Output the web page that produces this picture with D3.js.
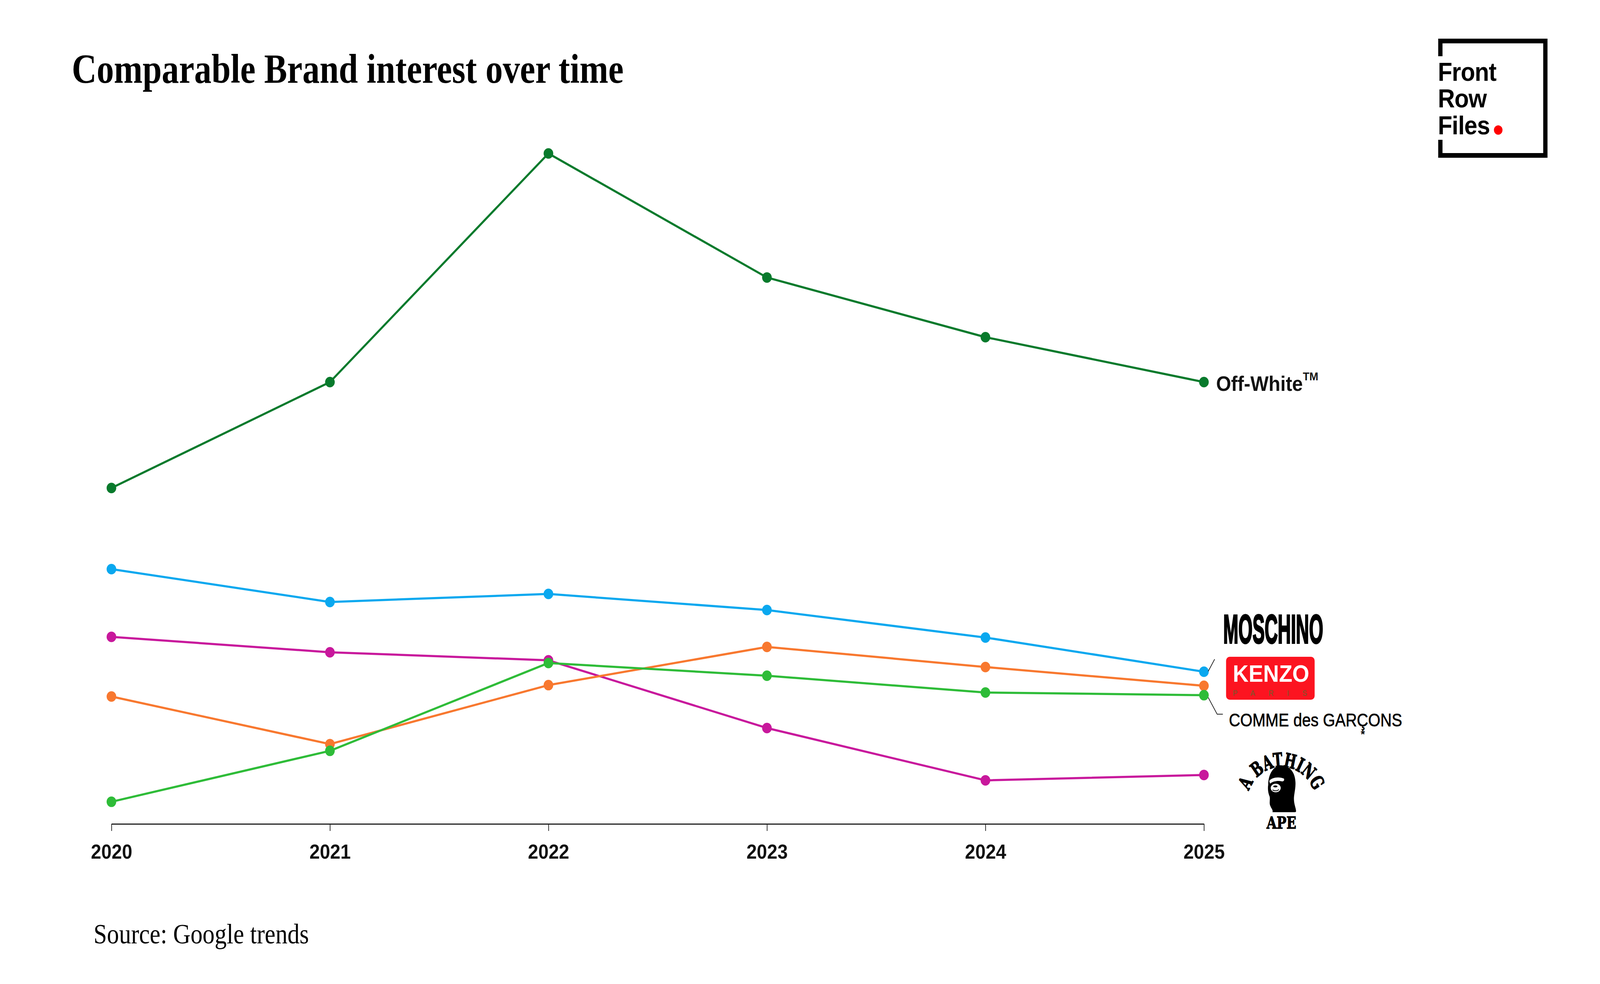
<!DOCTYPE html>
<html><head><meta charset="utf-8">
<script src="https://cdn.jsdelivr.net/npm/d3@7"></script>
<style>html,body{margin:0;padding:0;background:#fff;width:100%;height:100%;overflow:hidden;} svg{display:block;}</style>
</head><body>
<script>
// ---- data ----
const years = [2020, 2021, 2022, 2023, 2024, 2025];
const offWhite = [50.1, 65.9, 100, 81.5, 72.6, 65.9];
const moschino = [38.0, 33.1, 34.3, 31.9, 27.8, 22.7];
const bape = [27.9, 25.6, 24.4, 14.3, 6.5, 7.3];
const kenzo = [19.0, 11.9, 20.7, 26.4, 23.4, 20.6];
const commeDesGarcons = [3.3, 10.9, 24.0, 22.1, 19.6, 19.2];
const seriesKeys = ["offWhite", "moschino", "bape", "kenzo", "commeDesGarcons"];
const seriesColors = ["#087a2c", "#0aa8ef", "#c8189c", "#f8782f", "#2ebc38"];
const titleText = "Comparable Brand interest over time";
const sourceText = "Source: Google trends";
const logoLines = ["Front", "Row", "Files"];

const seriesValues = { offWhite, moschino, bape, kenzo, commeDesGarcons };

const W = 4480, H = 2520;
const svg = d3.select("body").append("svg")
  .attr("viewBox", `0 0 ${W} ${H}`)
  .attr("preserveAspectRatio", "none")
  .style("width", "100vw").style("height", "100vh")
  .style("background", "#fff");

const x = d3.scaleLinear().domain([2020, 2025]).range([312, 3371]);
const y = d3.scaleLinear().domain([0, 100]).range([2110, 393]);

// title
svg.append("text").attr("x", 201).attr("y", 212)
  .attr("font-family", "'Liberation Serif', 'DejaVu Serif', serif")
  .attr("font-weight", "bold").attr("font-size", 106)
  .attr("textLength", 1545).attr("lengthAdjust", "spacingAndGlyphs")
  .attr("fill", "#000").text(titleText);

// source
svg.append("text").attr("x", 262).attr("y", 2416)
  .attr("font-family", "'Liberation Serif', 'DejaVu Serif', serif")
  .attr("font-size", 72)
  .attr("textLength", 603).attr("lengthAdjust", "spacingAndGlyphs")
  .attr("fill", "#000").text(sourceText);

// axis
const axis = d3.axisBottom(x).tickValues(years).tickFormat(d3.format("d"))
  .tickSize(18).tickSizeOuter(0).tickPadding(34);
const gAxis = svg.append("g").attr("transform", "translate(0,2110)").call(axis);
gAxis.select(".domain").attr("stroke", "#222").attr("stroke-width", 3);
gAxis.selectAll(".tick line").attr("stroke", "#222").attr("stroke-width", 2);
gAxis.selectAll(".tick text").attr("font-family", "'Liberation Sans', Arial, sans-serif")
  .attr("font-weight", "bold").attr("font-size", 52).attr("fill", "#111");

// lines
const line = d3.line().x((d, i) => x(years[i])).y(d => y(d));
seriesKeys.forEach((k, si) => {
  const vals = seriesValues[k];
  const g = svg.append("g");
  g.append("path").datum(vals).attr("d", line).attr("fill", "none")
    .attr("stroke", seriesColors[si]).attr("stroke-width", 5.5)
    .attr("stroke-linejoin", "round");
  g.selectAll("circle").data(vals).join("circle")
    .attr("cx", (d, i) => x(years[i])).attr("cy", d => y(d)).attr("r", 13.5)
    .attr("fill", seriesColors[si]);
});

const lastX = x(years[years.length - 1]);

// Off-White label
const ow = svg.append("text").attr("x", lastX + 34).attr("y", y(offWhite[5]) + 23)
  .attr("font-family", "'Liberation Sans', Arial, sans-serif").attr("font-weight", "bold")
  .attr("font-size", 54).attr("fill", "#111");
ow.append("tspan").attr("textLength", 243).attr("lengthAdjust", "spacingAndGlyphs").text("Off-White");
svg.append("text").attr("x", lastX + 277).attr("y", y(offWhite[5]) - 4)
  .attr("font-family", "'Liberation Sans', Arial, sans-serif").attr("font-weight", "bold")
  .attr("font-size", 30).attr("fill", "#111").text("TM");

// MOSCHINO leader + logo text
const yM = y(moschino[5]);
svg.append("line").attr("x1", lastX + 12).attr("y1", yM - 1).attr("x2", lastX + 30).attr("y2", yM - 32)
  .attr("stroke", "#222").attr("stroke-width", 2);
svg.append("text").attr("x", 3425).attr("y", 1647)
  .attr("font-family", "'Liberation Sans', Arial, sans-serif").attr("font-weight", "bold")
  .attr("font-size", 104).attr("fill", "#000").attr("stroke", "#000").attr("stroke-width", 4)
  .attr("textLength", 280).attr("lengthAdjust", "spacingAndGlyphs").text("MOSCHINO");

// KENZO logo
svg.append("rect").attr("x", 3433).attr("y", 1682).attr("width", 248).attr("height", 110)
  .attr("rx", 10).attr("fill", "#fc1420");
svg.append("text").attr("x", 3452).attr("y", 1746)
  .attr("font-family", "'Liberation Sans', Arial, sans-serif").attr("font-weight", "bold")
  .attr("font-size", 62).attr("fill", "#fff")
  .attr("textLength", 214).attr("lengthAdjust", "spacingAndGlyphs").text("KENZO");
svg.append("text").attr("x", 3452).attr("y", 1782)
  .attr("font-family", "'Liberation Sans', Arial, sans-serif")
  .attr("font-size", 20).attr("fill", "#6b5e2c")
  .attr("textLength", 208).attr("lengthAdjust", "spacing").text("PARIS");

// COMME des GARÇONS leader + text
const yC = y(commeDesGarcons[5]);
svg.append("path").attr("d", `M${lastX + 12},${yC + 6} L${lastX + 37},${1829} L${lastX + 53},${1829}`)
  .attr("fill", "none").attr("stroke", "#222").attr("stroke-width", 2);
svg.append("text").attr("x", 3441).attr("y", 1860)
  .attr("font-family", "'Liberation Sans', Arial, sans-serif")
  .attr("font-size", 47).attr("fill", "#000").attr("stroke", "#000").attr("stroke-width", 0.8)
  .attr("textLength", 485).attr("lengthAdjust", "spacingAndGlyphs").text("COMME des GARÇONS");
svg.append("text").attr("x", 3816).attr("y", 1890).attr("text-anchor", "middle")
  .attr("font-family", "'Liberation Sans', Arial, sans-serif").attr("font-weight", "bold")
  .attr("font-size", 30).attr("fill", "#000").text("*");

// A BATHING APE logo
const cx = 3588, cy = 2062, r = 98;
const a0 = 160 * Math.PI / 180, a1 = 20 * Math.PI / 180;
svg.append("defs").append("path").attr("id", "bapeArc")
  .attr("d", `M${cx + r * Math.cos(a0)},${cy - r * Math.sin(a0)} A${r},${r} 0 0 1 ${cx + r * Math.cos(a1)},${cy - r * Math.sin(a1)}`);
svg.append("text")
  .attr("font-family", "'DejaVu Serif', serif").attr("font-weight", "bold")
  .attr("font-size", 50).attr("fill", "#000").attr("stroke", "#000").attr("stroke-width", 2)
  .append("textPath").attr("href", "#bapeArc").attr("startOffset", "50%")
  .attr("text-anchor", "middle").attr("textLength", 234).attr("lengthAdjust", "spacingAndGlyphs")
  .text("A BATHING");
const head = svg.append("g").attr("transform", "translate(3549,1960)");
head.append("path").attr("fill", "#000")
  .attr("d", "M38,0 C60,0 76,16 78,40 C80,58 74,72 74,86 C74,100 80,110 80,118 L78,120 L14,120 C16,114 10,110 8,104 C4,96 8,88 6,80 C2,72 0,60 2,50 C2,30 10,12 24,4 C28,2 33,0 38,0 Z");
head.append("path").attr("fill", "#fff")
  .attr("d", "M5,40 C12,30 34,29 46,34 C48,38 45,42 40,41 C30,39 16,40 7,47 Z");
head.append("ellipse").attr("cx", 23).attr("cy", 58).attr("rx", 14).attr("ry", 11).attr("fill", "#fff");
head.append("ellipse").attr("cx", 22).attr("cy", 54).attr("rx", 6).attr("ry", 2.5).attr("fill", "#000");
head.append("path").attr("d", "M14,63 C20,66 27,66 32,62").attr("fill", "none").attr("stroke", "#000").attr("stroke-width", 2);
svg.append("text").attr("x", 3588).attr("y", 2122).attr("text-anchor", "middle")
  .attr("font-family", "'DejaVu Serif', serif").attr("font-weight", "bold")
  .attr("font-size", 42).attr("fill", "#000").attr("stroke", "#000").attr("stroke-width", 1.5)
  .attr("textLength", 83).attr("lengthAdjust", "spacingAndGlyphs").text("APE");

// Front Row Files logo
const logo = svg.append("g");
logo.append("path").attr("fill", "none").attr("stroke", "#000").attr("stroke-width", 12)
  .attr("stroke-linecap", "butt")
  .attr("d", "M4033,144 L4033,105 L4327,105 L4327,398 L4033,398 L4033,358");
logoLines.forEach((t, i) => {
  logo.append("text").attr("x", 4026).attr("y", 207 + i * 68.5)
    .attr("font-family", "'Liberation Sans', Arial, sans-serif").attr("font-weight", "bold")
    .attr("font-size", 66).attr("letter-spacing", -1).attr("fill", "#000").text(t);
});
logo.append("circle").attr("cx", 4195).attr("cy", 333).attr("r", 12).attr("fill", "#f00");
</script>
</body></html>
